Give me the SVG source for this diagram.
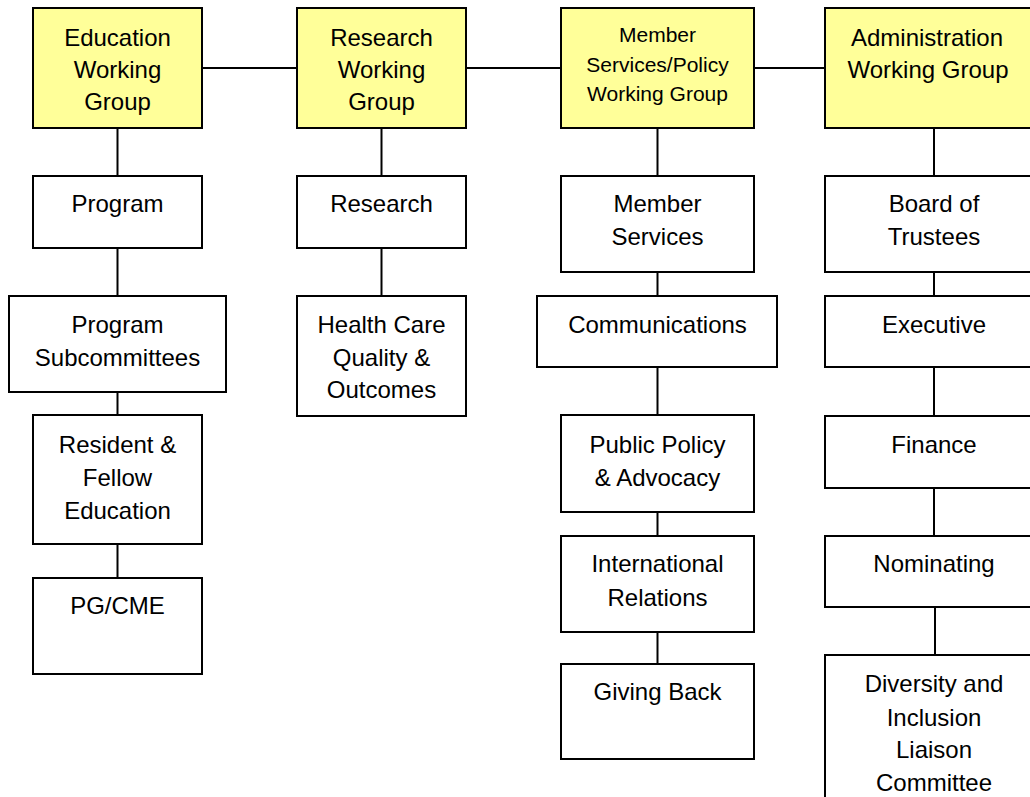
<svg xmlns="http://www.w3.org/2000/svg" width="1030" height="797" viewBox="0 0 1030 797">
  <style>
    .box { fill: #ffffff; stroke: #000000; stroke-width: 2; }
    .group { fill: #ffff99; stroke: #000000; stroke-width: 2; }
    .link { stroke: #000000; stroke-width: 2; fill: none; }
    text { font-family: "Liberation Sans", Arial, sans-serif; font-size: 24px; fill: #000000; text-anchor: middle; }
    .small { font-size: 21px; }
  </style>
  <rect x="0" y="0" width="1030" height="797" fill="#ffffff"/>

  <!-- connectors -->
  <g id="connectors">
    <line class="link" x1="202" y1="68" x2="297" y2="68"/>
    <line class="link" x1="466" y1="68" x2="561" y2="68"/>
    <line class="link" x1="754" y1="68" x2="825" y2="68"/>

    <line class="link" x1="117.5" y1="128" x2="117.5" y2="176"/>
    <line class="link" x1="117.5" y1="248" x2="117.5" y2="296"/>
    <line class="link" x1="117.5" y1="392" x2="117.5" y2="415"/>
    <line class="link" x1="117.5" y1="544" x2="117.5" y2="578"/>

    <line class="link" x1="381.5" y1="128" x2="381.5" y2="176"/>
    <line class="link" x1="381.5" y1="248" x2="381.5" y2="296"/>

    <line class="link" x1="657.5" y1="128" x2="657.5" y2="176"/>
    <line class="link" x1="657.5" y1="272" x2="657.5" y2="296"/>
    <line class="link" x1="657.5" y1="367" x2="657.5" y2="415"/>
    <line class="link" x1="657.5" y1="512" x2="657.5" y2="536"/>
    <line class="link" x1="657.5" y1="632" x2="657.5" y2="664"/>

    <line class="link" x1="934" y1="128" x2="934" y2="176"/>
    <line class="link" x1="934" y1="272" x2="934" y2="296"/>
    <line class="link" x1="934" y1="367" x2="934" y2="416"/>
    <line class="link" x1="934" y1="488" x2="934" y2="536"/>
    <line class="link" x1="935" y1="607" x2="935" y2="655"/>
  </g>

  <!-- working groups -->
  <g id="education-wg">
    <rect class="group" x="33" y="8" width="169" height="120"/>
    <text x="117.5" y="45.5">Education</text>
    <text x="117.5" y="77.5">Working</text>
    <text x="117.5" y="110">Group</text>
  </g>
  <g id="research-wg">
    <rect class="group" x="297" y="8" width="169" height="120"/>
    <text x="381.5" y="45.5">Research</text>
    <text x="381.5" y="77.5">Working</text>
    <text x="381.5" y="110">Group</text>
  </g>
  <g id="member-policy-wg">
    <rect class="group" x="561" y="8" width="193" height="120"/>
    <text class="small" x="657.5" y="42">Member</text>
    <text class="small" x="657.5" y="71.5">Services/Policy</text>
    <text class="small" x="657.5" y="100.5">Working Group</text>
  </g>
  <g id="administration-wg">
    <rect class="group" x="825" y="8" width="218" height="120"/>
    <text x="927" y="45.5">Administration</text>
    <text x="928" y="77.5">Working Group</text>
  </g>

  <!-- education column -->
  <g id="program">
    <rect class="box" x="33" y="176" width="169" height="72"/>
    <text x="117.5" y="212">Program</text>
  </g>
  <g id="program-subcommittees">
    <rect class="box" x="9" y="296" width="217" height="96"/>
    <text x="117.5" y="333">Program</text>
    <text x="117.5" y="365.5">Subcommittees</text>
  </g>
  <g id="resident-fellow-education">
    <rect class="box" x="33" y="415" width="169" height="129"/>
    <text x="117.5" y="453">Resident &amp;</text>
    <text x="117.5" y="486">Fellow</text>
    <text x="117.5" y="518.5">Education</text>
  </g>
  <g id="pg-cme">
    <rect class="box" x="33" y="578" width="169" height="96"/>
    <text x="117.5" y="614">PG/CME</text>
  </g>

  <!-- research column -->
  <g id="research">
    <rect class="box" x="297" y="176" width="169" height="72"/>
    <text x="381.5" y="212">Research</text>
  </g>
  <g id="health-care-quality">
    <rect class="box" x="297" y="296" width="169" height="120"/>
    <text x="381.5" y="333">Health Care</text>
    <text x="381.5" y="365.5">Quality &amp;</text>
    <text x="381.5" y="397.5">Outcomes</text>
  </g>

  <!-- member services / policy column -->
  <g id="member-services">
    <rect class="box" x="561" y="176" width="193" height="96"/>
    <text x="657.5" y="212">Member</text>
    <text x="657.5" y="245">Services</text>
  </g>
  <g id="communications">
    <rect class="box" x="537" y="296" width="240" height="71"/>
    <text x="657.5" y="333">Communications</text>
  </g>
  <g id="public-policy-advocacy">
    <rect class="box" x="561" y="415" width="193" height="97"/>
    <text x="657.5" y="453">Public Policy</text>
    <text x="657.5" y="486">&amp; Advocacy</text>
  </g>
  <g id="international-relations">
    <rect class="box" x="561" y="536" width="193" height="96"/>
    <text x="657.5" y="572">International</text>
    <text x="657.5" y="605.5">Relations</text>
  </g>
  <g id="giving-back">
    <rect class="box" x="561" y="664" width="193" height="95"/>
    <text x="657.5" y="700">Giving Back</text>
  </g>

  <!-- administration column -->
  <g id="board-of-trustees">
    <rect class="box" x="825" y="176" width="218" height="96"/>
    <text x="934" y="212">Board of</text>
    <text x="934" y="245">Trustees</text>
  </g>
  <g id="executive">
    <rect class="box" x="825" y="296" width="218" height="71"/>
    <text x="934" y="333">Executive</text>
  </g>
  <g id="finance">
    <rect class="box" x="825" y="416" width="218" height="72"/>
    <text x="934" y="453">Finance</text>
  </g>
  <g id="nominating">
    <rect class="box" x="825" y="536" width="218" height="71"/>
    <text x="934" y="572">Nominating</text>
  </g>
  <g id="diversity-inclusion">
    <rect class="box" x="825" y="655" width="218" height="160"/>
    <text x="934" y="692">Diversity and</text>
    <text x="934" y="725.5">Inclusion</text>
    <text x="934" y="757.5">Liaison</text>
    <text x="934" y="790.5">Committee</text>
  </g>
</svg>
